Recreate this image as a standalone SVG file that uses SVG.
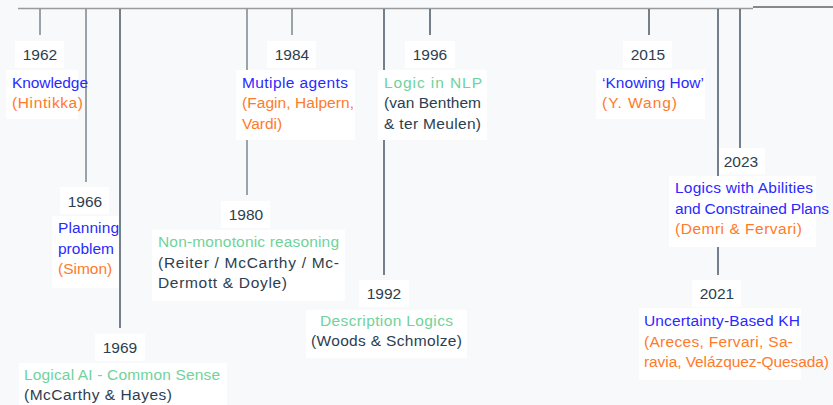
<svg xmlns="http://www.w3.org/2000/svg" width="833" height="405" viewBox="0 0 833 405">
<style>
text{font-family:"Liberation Sans",Arial,sans-serif;font-size:15.5px;}
.yr{fill:#2c3e50;text-anchor:middle;}
.b{fill:#2a2aff;}
.o{fill:#ff7a2a;}
.g{fill:#6fd39a;}
.d{fill:#2c3e50;}
.box{fill:#ffffff;}
.lg{stroke:#7a878d;stroke-width:1.5;}
.ld{stroke:#2c3e50;stroke-width:1.3;}
</style>
<rect width="833" height="405" fill="#f8f9fa"/>
<g id="connectors">
<line x1="18" y1="8.5" x2="753" y2="8.5" stroke="#9a9a9a" stroke-width="1.5"/>
<line x1="753" y1="7" x2="833" y2="7" stroke="#888" stroke-width="2"/>
<line class="lg" x1="40" y1="9" x2="40" y2="35"/>
<line class="lg" x1="86" y1="9" x2="86" y2="182"/>
<line class="ld" x1="120" y1="9" x2="120" y2="328"/>
<line class="lg" x1="247" y1="9" x2="247" y2="195"/>
<line class="lg" x1="292" y1="9" x2="292" y2="35"/>
<line class="ld" x1="384" y1="9" x2="384" y2="275"/>
<line class="ld" x1="430" y1="9" x2="430" y2="35"/>
<line class="ld" x1="649" y1="9" x2="649" y2="35"/>
<line class="ld" x1="718" y1="9" x2="718" y2="275"/>
<line class="ld" x1="740" y1="9" x2="740" y2="148"/>
</g>
<g id="n1962">
<rect class="box" x="15" y="41" width="49" height="27"/>
<text class="yr" x="40" y="60">1962</text>
<rect class="box" x="6" y="70" width="72" height="49"/>
<text class="b" x="12" y="88" textLength="76">Knowledge</text>
<text class="o" x="12" y="108" textLength="71">(Hintikka)</text>
</g>
<g id="n1966">
<rect class="box" x="60" y="187" width="49" height="27"/>
<text class="yr" x="85" y="207">1966</text>
<rect class="box" x="52" y="216" width="67" height="72"/>
<text class="b" x="58" y="233" textLength="61">Planning</text>
<text class="b" x="58" y="253.5">problem</text>
<text class="o" x="58" y="274">(Simon)</text>
</g>
<g id="n1969">
<rect class="box" x="95" y="334" width="50" height="27"/>
<text class="yr" x="120" y="353">1969</text>
<rect class="box" x="19" y="363" width="208" height="42"/>
<text class="g" x="24" y="380" textLength="196">Logical AI - Common Sense</text>
<text class="d" x="24" y="400" textLength="148">(McCarthy &amp; Hayes)</text>
</g>
<g id="n1980">
<rect class="box" x="221" y="201" width="49" height="27"/>
<text class="yr" x="246" y="220">1980</text>
<rect class="box" x="152" y="230" width="193" height="71"/>
<text class="g" x="158" y="247" textLength="181">Non-monotonic reasoning</text>
<text class="d" x="158" y="267.5" textLength="181">(Reiter / McCarthy / Mc-</text>
<text class="d" x="158" y="288" textLength="129">Dermott &amp; Doyle)</text>
</g>
<g id="n1984">
<rect class="box" x="267" y="41" width="49" height="27"/>
<text class="yr" x="292" y="60">1984</text>
<rect class="box" x="236" y="70" width="119" height="70"/>
<text class="b" x="242" y="88" textLength="106">Mutiple agents</text>
<text class="o" x="242" y="108" textLength="112">(Fagin, Halpern,</text>
<text class="o" x="242" y="128.5">Vardi)</text>
</g>
<g id="n1992">
<rect class="box" x="359" y="280" width="50" height="27"/>
<text class="yr" x="384" y="299">1992</text>
<rect class="box" x="306" y="310" width="161" height="48"/>
<text class="g" x="320" y="326" textLength="133">Description Logics</text>
<text class="d" x="311" y="346" textLength="151">(Woods &amp; Schmolze)</text>
</g>
<g id="n1996">
<rect class="box" x="405" y="41" width="50" height="27"/>
<text class="yr" x="430" y="60">1996</text>
<rect class="box" x="378" y="70" width="109" height="70"/>
<text class="g" x="384" y="88" textLength="98">Logic in NLP</text>
<text class="d" x="384" y="108" textLength="97">(van Benthem</text>
<text class="d" x="384" y="128.5" textLength="97">&amp; ter Meulen)</text>
</g>
<g id="n2015">
<rect class="box" x="623" y="41" width="49" height="27"/>
<text class="yr" x="648" y="60">2015</text>
<rect class="box" x="596" y="70" width="109" height="49"/>
<text class="b" x="602" y="88" textLength="102">‘Knowing How’</text>
<text class="o" x="602" y="108" textLength="75">(Y. Wang)</text>
</g>
<g id="n2021">
<rect class="box" x="692" y="280" width="49" height="27"/>
<text class="yr" x="717" y="299">2021</text>
<rect class="box" x="639" y="308" width="162" height="72"/>
<text class="b" x="644" y="326" textLength="156">Uncertainty-Based KH</text>
<text class="o" x="644" y="346.5" textLength="149">(Areces, Fervari, Sa-</text>
<text class="o" x="644" y="367" textLength="185">ravia, Velázquez-Quesada)</text>
</g>
<g id="n2023">
<rect class="box" x="719" y="148" width="46" height="26"/>
<text class="yr" x="741" y="167">2023</text>
<rect class="box" x="669" y="176" width="147" height="71"/>
<text class="b" x="675" y="193" textLength="138">Logics with Abilities</text>
<text class="b" x="675" y="213.5" textLength="154">and Constrained Plans</text>
<text class="o" x="675" y="234" textLength="127">(Demri &amp; Fervari)</text>
</g>
</svg>
